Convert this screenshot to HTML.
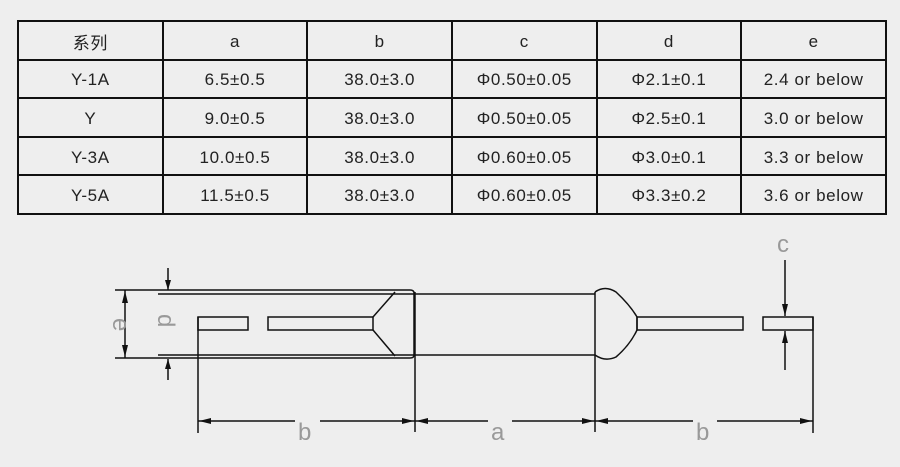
<!DOCTYPE html>
<html><head><meta charset="utf-8"><style>
html,body{margin:0;padding:0;background:#eeeeee;width:900px;height:467px;overflow:hidden}
table{position:absolute;left:17px;top:20px;width:870px;height:193px;table-layout:fixed;border-collapse:collapse;font-family:"Liberation Sans","Noto Sans CJK SC",sans-serif;font-size:17px;color:#222}
tr{height:38.6px}
td{border:2px solid #111;text-align:center;padding:3px 0 0 0;letter-spacing:0.6px;vertical-align:middle}
svg{position:absolute;left:0;top:0}
</style></head><body>
<table>
<tr><td>系列</td><td>a</td><td>b</td><td>c</td><td>d</td><td>e</td></tr>
<tr><td>Y-1A</td><td>6.5±0.5</td><td>38.0±3.0</td><td>Φ0.50±0.05</td><td>Φ2.1±0.1</td><td>2.4 or below</td></tr>
<tr><td>Y</td><td>9.0±0.5</td><td>38.0±3.0</td><td>Φ0.50±0.05</td><td>Φ2.5±0.1</td><td>3.0 or below</td></tr>
<tr><td>Y-3A</td><td>10.0±0.5</td><td>38.0±3.0</td><td>Φ0.60±0.05</td><td>Φ3.0±0.1</td><td>3.3 or below</td></tr>
<tr><td>Y-5A</td><td>11.5±0.5</td><td>38.0±3.0</td><td>Φ0.60±0.05</td><td>Φ3.3±0.2</td><td>3.6 or below</td></tr>
</table>
<svg width="900" height="467" viewBox="0 0 900 467" fill="none" stroke="#111" stroke-width="1.5">
<line x1="115" y1="290" x2="410" y2="290"/>
<line x1="115" y1="358" x2="410" y2="358"/>
<path d="M410 290 Q414 290 414 293 L414 355 Q414 358 410 358"/>
<line x1="158" y1="294" x2="595" y2="294"/>
<line x1="158" y1="355" x2="595" y2="355"/>
<rect x="198" y="317" width="50" height="13"/>
<rect x="268" y="317" width="105" height="13"/>
<line x1="373" y1="317" x2="395" y2="292"/>
<line x1="373" y1="330" x2="395" y2="356"/>
<line x1="595" y1="292" x2="595" y2="432"/>
<path d="M595 292 Q605 285 616 292 Q630 305 637 317 L637 330 Q630 345 616 357 Q605 362 595 355"/>
<rect x="637" y="317" width="106" height="13"/>
<rect x="763" y="317" width="50" height="13"/>
<line x1="198" y1="317" x2="198" y2="433"/>
<line x1="415" y1="292" x2="415" y2="432"/>
<line x1="813" y1="317" x2="813" y2="433"/>
<line x1="198" y1="421" x2="295" y2="421"/>
<line x1="320" y1="421" x2="488" y2="421"/>
<line x1="512" y1="421" x2="693" y2="421"/>
<line x1="717" y1="421" x2="813" y2="421"/>
<g fill="#111" stroke="none">
<polygon points="199,421 211,418 211,424"/><polygon points="414,421 402,418 402,424"/>
<polygon points="416,421 428,418 428,424"/><polygon points="594,421 582,418 582,424"/>
<polygon points="596,421 608,418 608,424"/><polygon points="812,421 800,418 800,424"/>
<polygon points="125,291 122,303 128,303"/><polygon points="125,357 122,345 128,345"/>
<polygon points="168,290 165,280 171,280"/><polygon points="168,359 165,369 171,369"/>
<polygon points="785,316 782,304 788,304"/><polygon points="785,331 782,343 788,343"/>
</g>
<line x1="125" y1="290" x2="125" y2="358"/>
<line x1="168" y1="268" x2="168" y2="290"/>
<line x1="168" y1="359" x2="168" y2="380"/>
<line x1="785" y1="260" x2="785" y2="316"/>
<line x1="785" y1="331" x2="785" y2="370"/>
<g stroke="none" fill="#999" font-family="Liberation Sans,sans-serif" font-size="24">
<text x="298" y="440">b</text>
<text x="491" y="440">a</text>
<text x="696" y="440">b</text>
<text x="777" y="252">c</text>
<text x="0" y="0" transform="translate(113,318) rotate(90)">e</text>
<text x="0" y="0" transform="translate(158,314) rotate(90)">d</text>
</g>
</svg>
</body></html>
